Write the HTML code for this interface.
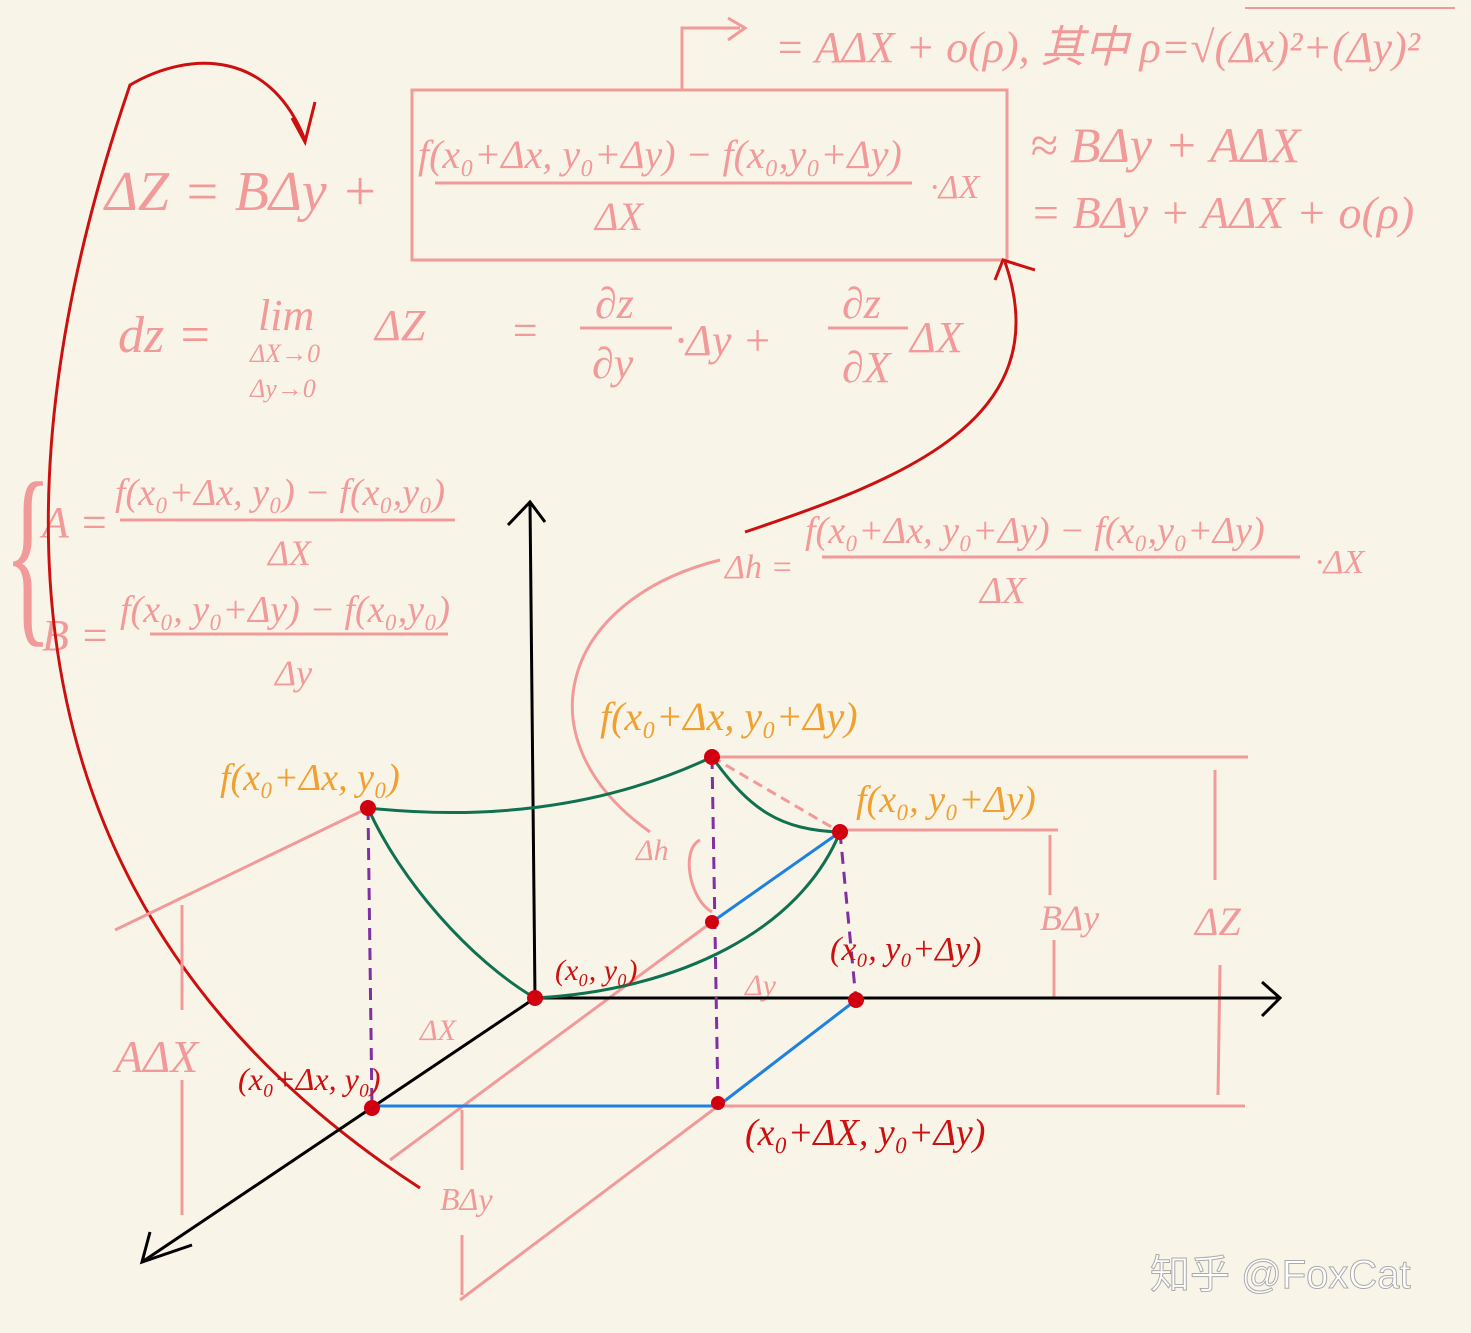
<!DOCTYPE html>
<html><head><meta charset="utf-8"><style>
html,body{margin:0;padding:0;background:#f8f5e8;}
svg{display:block;}
.pk{fill:#f29a9a;font-family:"Liberation Serif","Noto Sans CJK SC",serif;font-style:italic;}
.rd{fill:#cc1010;font-family:"Liberation Serif",serif;font-style:italic;}
.or{fill:#f0a030;font-family:"Liberation Serif",serif;font-style:italic;}
</style></head><body>
<svg width="1471" height="1333" viewBox="0 0 1471 1333" xmlns="http://www.w3.org/2000/svg">
<rect width="1471" height="1333" fill="#f8f5e8"/>
<g>
<polyline points="682,90 682,28 740,28" fill="none" stroke="#f29a9a" stroke-width="3"/>
<path d="M728,18 L745,28 L728,40" fill="none" stroke="#f29a9a" stroke-width="3"/>
<text class="pk" x="775" y="62" font-size="44">= AΔX + o(ρ), 其中 ρ=√(Δx)²+(Δy)²</text>
<line x1="1245" y1="8" x2="1455" y2="8" stroke="#f29a9a" stroke-width="2"/>
<rect x="412" y="90" width="595" height="170" fill="none" stroke="#f29a9a" stroke-width="3"/>
<text class="pk" x="105" y="210" font-size="56">ΔZ = BΔy +</text>
<text class="pk" x="418" y="168" font-size="40">f(x₀+Δx, y₀+Δy) − f(x₀,y₀+Δy)</text>
<line x1="435" y1="183" x2="912" y2="183" stroke="#f29a9a" stroke-width="3"/>
<text class="pk" x="595" y="230" font-size="40">ΔX</text>
<text class="pk" x="930" y="198" font-size="34">·ΔX</text>
<text class="pk" x="1030" y="162" font-size="50">≈ BΔy + AΔX</text>
<text class="pk" x="1030" y="228" font-size="46">= BΔy + AΔX + o(ρ)</text>
<text class="pk" x="118" y="352" font-size="52">dz =</text>
<text class="pk" x="258" y="330" font-size="44">lim</text>
<text class="pk" x="250" y="362" font-size="26">ΔX→0</text>
<text class="pk" x="250" y="397" font-size="26">Δy→0</text>
<text class="pk" x="375" y="340" font-size="44">ΔZ</text>
<text class="pk" x="510" y="345" font-size="44">=</text>
<text class="pk" x="595" y="318" font-size="44">∂z</text>
<line x1="580" y1="328" x2="672" y2="328" stroke="#f29a9a" stroke-width="3"/>
<text class="pk" x="592" y="378" font-size="44">∂y</text>
<text class="pk" x="675" y="355" font-size="44">·Δy +</text>
<text class="pk" x="842" y="318" font-size="44">∂z</text>
<line x1="828" y1="328" x2="908" y2="328" stroke="#f29a9a" stroke-width="3"/>
<text class="pk" x="842" y="382" font-size="44">∂X</text>
<text class="pk" x="910" y="352" font-size="44">ΔX</text>
<text class="pk" x="8" y="620" font-size="200" transform="scale(0.5,1)" style="font-style:normal">{</text>
<text class="pk" x="42" y="537" font-size="44">A =</text>
<text class="pk" x="115" y="505" font-size="38">f(x₀+Δx, y₀) − f(x₀,y₀)</text>
<line x1="120" y1="520" x2="455" y2="520" stroke="#f29a9a" stroke-width="3"/>
<text class="pk" x="268" y="565" font-size="36">ΔX</text>
<text class="pk" x="42" y="650" font-size="44">B =</text>
<text class="pk" x="120" y="622" font-size="38">f(x₀, y₀+Δy) − f(x₀,y₀)</text>
<line x1="150" y1="634" x2="448" y2="634" stroke="#f29a9a" stroke-width="3"/>
<text class="pk" x="275" y="685" font-size="36">Δy</text>
<text class="pk" x="725" y="578" font-size="34">Δh =</text>
<text class="pk" x="805" y="543" font-size="38">f(x₀+Δx, y₀+Δy) − f(x₀,y₀+Δy)</text>
<line x1="822" y1="557" x2="1300" y2="557" stroke="#f29a9a" stroke-width="3"/>
<text class="pk" x="980" y="603" font-size="38">ΔX</text>
<text class="pk" x="1315" y="573" font-size="34">·ΔX</text>
</g>
<path d="M420,1188 C100,980 -60,640 130,85 C190,50 270,50 305,140" fill="none" stroke="#cc1010" stroke-width="3"/>
<path d="M292,118 L305,142 L315,102" fill="none" stroke="#cc1010" stroke-width="3"/>
<path d="M745,532 C900,480 1060,420 1005,262" fill="none" stroke="#cc1010" stroke-width="3"/>
<path d="M995,280 L1003,260 L1035,270" fill="none" stroke="#cc1010" stroke-width="3"/>
<path d="M650,832 C520,740 560,600 720,560" fill="none" stroke="#f29a9a" stroke-width="3"/>
<g stroke="#f29a9a" stroke-width="3" fill="none">
<line x1="115" y1="930" x2="368" y2="808"/>
<line x1="712" y1="757" x2="1248" y2="757"/>
<line x1="840" y1="830" x2="1058" y2="830"/>
<line x1="718" y1="1106" x2="1245" y2="1106"/>
<line x1="460" y1="1300" x2="718" y2="1106"/>
<line x1="390" y1="1160" x2="712" y2="922"/>
<line x1="182" y1="905" x2="182" y2="1010"/>
<line x1="182" y1="1080" x2="182" y2="1215"/>
<line x1="1215" y1="770" x2="1215" y2="880"/>
<line x1="1220" y1="965" x2="1218" y2="1095"/>
<line x1="1050" y1="835" x2="1050" y2="895"/>
<line x1="1054" y1="940" x2="1054" y2="998"/>
<line x1="462" y1="1110" x2="462" y2="1170"/>
<line x1="462" y1="1235" x2="462" y2="1295"/>
<path d="M700,840 C680,850 690,900 712,912"/>
</g>
<text class="pk" x="115" y="1072" font-size="46">AΔX</text>
<text class="pk" x="1195" y="935" font-size="40">ΔZ</text>
<text class="pk" x="1040" y="930" font-size="36">BΔy</text>
<text class="pk" x="440" y="1210" font-size="32">BΔy</text>
<text class="pk" x="636" y="860" font-size="30">Δh</text>
<text class="pk" x="420" y="1040" font-size="30">ΔX</text>
<text class="pk" x="745" y="995" font-size="30">Δy</text>
<g stroke="#000" stroke-width="3" fill="none">
<line x1="535" y1="998" x2="530" y2="502"/>
<path d="M508,525 L530,502 L545,522"/>
<line x1="535" y1="998" x2="1280" y2="998"/>
<path d="M1262,982 L1280,998 L1262,1016"/>
<line x1="535" y1="998" x2="142" y2="1262"/>
<path d="M150,1232 L142,1262 L192,1245"/>
</g>
<g stroke="#117050" stroke-width="3" fill="none">
<path d="M368,808 C480,820 600,810 712,757"/>
<path d="M368,808 C400,880 470,960 535,998"/>
<path d="M712,757 C750,810 780,830 840,832"/>
<path d="M535,998 C680,990 800,930 840,832"/>
</g>
<line x1="712" y1="757" x2="840" y2="832" stroke="#f29a9a" stroke-width="3" stroke-dasharray="10,6"/>
<g stroke="#1e80e0" stroke-width="3">
<line x1="372" y1="1106" x2="718" y2="1106"/>
<line x1="718" y1="1106" x2="856" y2="1000"/>
<line x1="712" y1="922" x2="840" y2="832"/>
</g>
<g stroke="#8030a0" stroke-width="3" stroke-dasharray="12,8">
<line x1="368" y1="808" x2="372" y2="1108"/>
<line x1="712" y1="757" x2="718" y2="1103"/>
<line x1="840" y1="832" x2="856" y2="1000"/>
</g>
<g fill="#d00010">
<circle cx="368" cy="808" r="8"/><circle cx="712" cy="757" r="8"/><circle cx="840" cy="832" r="8"/>
<circle cx="535" cy="998" r="8"/><circle cx="372" cy="1108" r="8"/><circle cx="718" cy="1103" r="7"/>
<circle cx="856" cy="1000" r="8"/><circle cx="712" cy="922" r="7"/>
</g>
<text class="or" x="220" y="790" font-size="38">f(x₀+Δx, y₀)</text>
<text class="or" x="600" y="730" font-size="40">f(x₀+Δx, y₀+Δy)</text>
<text class="or" x="856" y="812" font-size="38">f(x₀, y₀+Δy)</text>
<text class="rd" x="555" y="980" font-size="30">(x₀, y₀)</text>
<text class="rd" x="830" y="960" font-size="34">(x₀, y₀+Δy)</text>
<text class="rd" x="238" y="1090" font-size="32">(x₀+Δx, y₀)</text>
<text class="rd" x="745" y="1145" font-size="38">(x₀+ΔX, y₀+Δy)</text>
<text x="1150" y="1288" font-size="40" fill="#fff" stroke="#aaa" stroke-width="1" font-family="'Liberation Sans','Noto Sans CJK SC',sans-serif">知乎 @FoxCat</text>
</svg>
</body></html>
